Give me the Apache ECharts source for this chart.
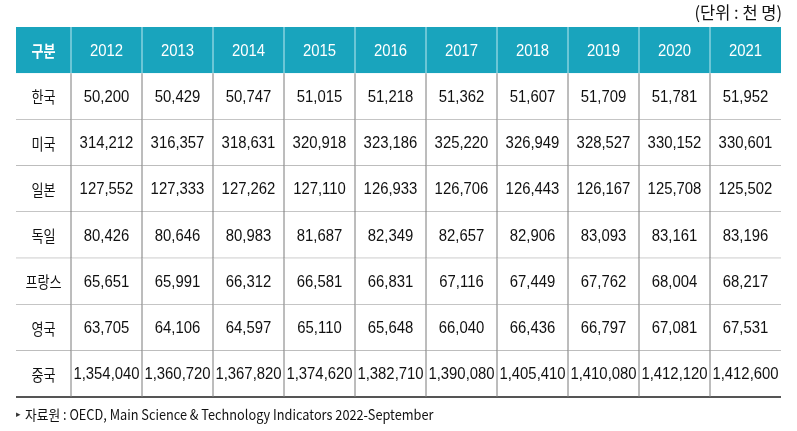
<!DOCTYPE html>
<html>
<head>
<meta charset="utf-8">
<script src="https://cdn.jsdelivr.net/npm/echarts@6/dist/echarts.min.js"></script>
<style>
html,body{margin:0;padding:0;background:#fff;}
#chart{width:797px;height:431px;}
</style>
</head>
<body>
<div id="chart"></div>
<script>
const years = ['2012','2013','2014','2015','2016','2017','2018','2019','2020','2021'];
const headerLabel = '구분';
const countries = ['한국','미국','일본','독일','프랑스','영국','중국'];
const korea   = [50200, 50429, 50747, 51015, 51218, 51362, 51607, 51709, 51781, 51952];
const usa     = [314212, 316357, 318631, 320918, 323186, 325220, 326949, 328527, 330152, 330601];
const japan   = [127552, 127333, 127262, 127110, 126933, 126706, 126443, 126167, 125708, 125502];
const germany = [80426, 80646, 80983, 81687, 82349, 82657, 82906, 83093, 83161, 83196];
const france  = [65651, 65991, 66312, 66581, 66831, 67116, 67449, 67762, 68004, 68217];
const uk      = [63705, 64106, 64597, 65110, 65648, 66040, 66436, 66797, 67081, 67531];
const china   = [1354040, 1360720, 1367820, 1374620, 1382710, 1390080, 1405410, 1410080, 1412120, 1412600];
const unitText = '(단위 : 천 명)';
const sourceMark = '▸';
const sourceText = '자료원 : OECD, Main Science & Technology Indicators 2022-September';

const seriesValues = [korea, usa, japan, germany, france, uk, china];
const rowCats = [headerLabel].concat(countries);

const TEAL = '#19a4bd';
const KO_FONT = '"Noto Sans CJK KR", sans-serif';
const fmt = v => v.toLocaleString('en-US');

const labelData = rowCats.map((c, r) => [0, r]);
const labelText = rowCats.slice();
const valueData = [];
const valueText = [];
years.forEach((y, i) => {
  valueData.push([i, 0]); valueText.push(y);
  seriesValues.forEach((arr, r) => { valueData.push([i, r + 1]); valueText.push(fmt(arr[i])); });
});

function makeRender(texts, isDataGrid) {
  return function (params, api) {
    const xi = api.value(0), yi = api.value(1);
    const c = api.coord([xi, yi]);
    const s = api.size([1, 1]);
    const w = s[0], h = s[1];
    const x0 = c[0] - w / 2, y0 = c[1] - h / 2;
    const isHeader = yi === 0;
    const isLast = yi === rowCats.length - 1;
    const children = [];
    children.push({
      type: 'rect',
      shape: { x: x0, y: y0, width: w, height: h },
      style: { fill: isHeader ? TEAL : '#fff' }
    });
    if (!isHeader) {
      children.push({
        type: 'line',
        shape: { x1: x0, y1: y0 + h, x2: x0 + w, y2: y0 + h },
        style: { stroke: isLast ? '#555' : '#8a8a8a', lineWidth: isLast ? 2 : 1 }
      });
    }
    if (isDataGrid) {
      children.push({
        type: 'line',
        shape: { x1: x0, y1: y0, x2: x0, y2: y0 + h },
        style: { stroke: isHeader ? '#bfe8ef' : '#7a7a7a', lineWidth: 1 }
      });
    }
    const txt = texts[params.dataIndex];
    const isKo = /[가-힣]/.test(txt);
    children.push({
      type: 'text',
      x: c[0], y: c[1] + 1,
      scaleX: isKo ? 0.82 : 0.93,
      style: {
        text: txt,
        x: 0, y: 0,
        align: 'center', verticalAlign: 'middle',
        fill: isHeader ? '#fff' : '#111',
        fontSize: 16,
        fontWeight: (isHeader && isKo) ? 'bold' : 'normal',
        fontFamily: isKo ? KO_FONT : '"Liberation Sans", Arial, sans-serif'
      }
    });
    return { type: 'group', children: children };
  };
}

const chart = echarts.init(document.getElementById('chart'), null, { renderer: 'canvas' });
chart.setOption({
  animation: false,
  backgroundColor: '#fff',
  graphic: [
    { type: 'text', x: 782, y: 13, scaleX: 0.97,
      style: { text: unitText, x: 0, y: 0, align: 'right', verticalAlign: 'middle',
               fontSize: 17, fill: '#111', fontFamily: KO_FONT } },
    { type: 'text', x: 16, y: 414,
      style: { text: sourceMark, x: 0, y: 0, align: 'left', verticalAlign: 'middle',
               fontSize: 9, fill: '#333', fontFamily: KO_FONT } },
    { type: 'text', x: 25, y: 415, scaleX: 0.91,
      style: { text: sourceText, x: 0, y: 0, align: 'left', verticalAlign: 'middle',
               fontSize: 14, fill: '#111', fontFamily: KO_FONT } }
  ],
  grid: [
    { left: 16, top: 27, width: 55, height: 370 },
    { left: 71, top: 27, width: 710, height: 370 }
  ],
  xAxis: [
    { type: 'category', gridIndex: 0, data: [headerLabel], show: false },
    { type: 'category', gridIndex: 1, data: years, show: false }
  ],
  yAxis: [
    { type: 'category', gridIndex: 0, data: rowCats, inverse: true, show: false },
    { type: 'category', gridIndex: 1, data: rowCats, inverse: true, show: false }
  ],
  series: [
    { type: 'custom', xAxisIndex: 0, yAxisIndex: 0, data: labelData,
      renderItem: makeRender(labelText, false) },
    { type: 'custom', xAxisIndex: 1, yAxisIndex: 1, data: valueData,
      renderItem: makeRender(valueText, true) }
  ]
});
</script>
</body>
</html>
